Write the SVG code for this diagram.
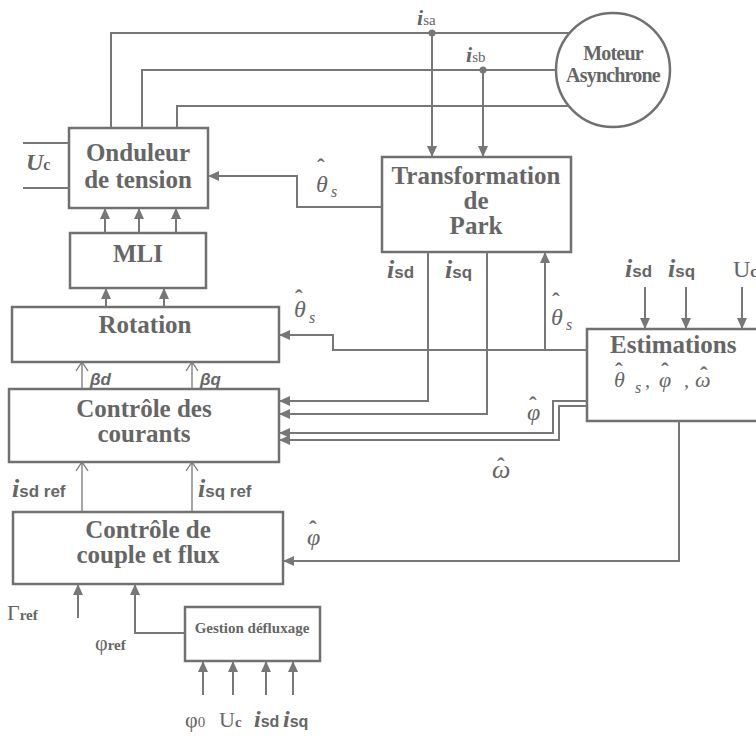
<svg xmlns="http://www.w3.org/2000/svg" width="756" height="740" viewBox="0 0 756 740">
<style>
.box{fill:#fff;stroke:#707070;stroke-width:2.5}
.ln{fill:none;stroke:#777;stroke-width:2}
.thin{fill:none;stroke:#777;stroke-width:1.3}
.t{font-family:"Liberation Serif",serif;font-weight:bold;fill:#666;text-anchor:middle}
.st{text-anchor:start}
.big{font-size:25px}
.it{font-family:"Liberation Serif",serif;font-style:italic;fill:#666}
.sans{font-family:"Liberation Sans",sans-serif;font-weight:bold;fill:#666}
.hat{font-family:"Liberation Serif",serif;font-weight:bold;fill:#666;font-size:23px}
</style>
<defs>
<marker id="a" markerUnits="userSpaceOnUse" markerWidth="12" markerHeight="10" refX="11" refY="5" orient="auto">
<path d="M0,0 L11,5 L0,10 z" fill="#777"/>
</marker>
<marker id="o" markerUnits="userSpaceOnUse" markerWidth="12" markerHeight="14" refX="10" refY="7" orient="auto">
<path d="M1,1 L10,7 L1,13" fill="none" stroke="#777" stroke-width="1.3"/>
</marker>
</defs>
<rect width="756" height="740" fill="#fff"/>

<g id="onduleur">
<rect class="box" x="69" y="128" width="139" height="80"/>
<text class="t big" x="138" y="161">Onduleur</text>
<text class="t big" x="138" y="188">de tension</text>
</g>
<g id="moteur">
<circle class="box" cx="613" cy="70" r="57"/>
<text class="t" font-size="20" x="613" y="60" letter-spacing="-0.8">Moteur</text>
<text class="t" font-size="20" x="613" y="82" letter-spacing="-0.8">Asynchrone</text>
</g>
<g id="park">
<rect class="box" x="382" y="157" width="189" height="95"/>
<text class="t big" x="476" y="184">Transformation</text>
<text class="t big" x="476" y="209">de</text>
<text class="t big" x="476" y="234">Park</text>
</g>
<g id="mli">
<rect class="box" x="70" y="233" width="136" height="55"/>
<text class="t big" x="138" y="262">MLI</text>
</g>
<g id="rotation">
<rect class="box" x="12" y="307" width="267" height="55"/>
<text class="t big" x="145" y="333">Rotation</text>
</g>
<g id="estimations">
<rect class="box" x="587" y="329" width="190" height="92"/>
<text class="t big st" x="610" y="353">Estimations</text>
<text class="it" font-size="22" x="614" y="387">θ</text>
<text class="it" font-size="16" x="635" y="393">s</text>
<text class="it" font-size="20" x="645" y="387">,</text>
<text class="it" font-size="22" x="659" y="387">φ</text>
<text class="it" font-size="20" x="684" y="387">,</text>
<text class="it" font-size="22" x="695" y="387">ω</text>
<text class="hat" x="615" y="379">ˆ</text>
<text class="hat" x="661" y="379">ˆ</text>
<text class="hat" x="700" y="383">ˆ</text>
</g>
<g id="courants">
<rect class="box" x="9" y="389" width="270" height="73"/>
<text class="t big" x="144" y="417">Contrôle des</text>
<text class="t big" x="144" y="442">courants</text>
</g>
<g id="couple">
<rect class="box" x="13" y="512" width="270" height="72"/>
<text class="t big" x="148" y="538">Contrôle de</text>
<text class="t big" x="148" y="563">couple et flux</text>
</g>
<g id="gestion">
<rect class="box" x="185" y="607" width="135" height="54"/>
<text class="t" font-size="15" x="252" y="633">Gestion défluxage</text>
</g>

<g id="connectors">
<path class="ln" d="M111,128 V33 H569"/>
<path class="ln" d="M142,128 V70 H556"/>
<path class="ln" d="M177,128 V106 H569"/>
<circle cx="432" cy="33" r="3.5" fill="#777"/>
<circle cx="483" cy="70" r="3.5" fill="#777"/>
<path class="ln" d="M432,33 V157" marker-end="url(#a)"/>
<path class="ln" d="M483,70 V157" marker-end="url(#a)"/>
<path class="ln" d="M23,143 H69 M23,188 H69"/>
<path class="ln" d="M382,207 H297 V176 H208" marker-end="url(#a)"/>
<path class="ln" d="M105,233 V208" marker-end="url(#a)"/>
<path class="ln" d="M139,233 V208" marker-end="url(#a)"/>
<path class="ln" d="M176,233 V208" marker-end="url(#a)"/>
<path class="ln" d="M106,307 V288" marker-end="url(#a)"/>
<path class="ln" d="M164,307 V288" marker-end="url(#a)"/>
<path class="ln" d="M587,350 H333 V335 H279" marker-end="url(#a)"/>
<path class="ln" d="M545,350 V252" marker-end="url(#a)"/>
<path class="ln" d="M428,252 V401 H279" marker-end="url(#a)"/>
<path class="ln" d="M487,252 V414 H279" marker-end="url(#a)"/>
<path class="ln" d="M587,401 H553 V433 H279" marker-end="url(#a)"/>
<path class="ln" d="M587,406 H559 V440 H279" marker-end="url(#a)"/>
<path class="ln" d="M645,287 V329" marker-end="url(#a)"/>
<path class="ln" d="M686,287 V329" marker-end="url(#a)"/>
<path class="ln" d="M742,287 V329" marker-end="url(#a)"/>
<path class="ln" d="M679,421 V561 H283" marker-end="url(#a)"/>
<path class="thin" d="M82,389 V362" marker-end="url(#o)"/>
<path class="thin" d="M192,389 V362" marker-end="url(#o)"/>
<path class="thin" d="M82,512 V462" marker-end="url(#o)"/>
<path class="thin" d="M192,512 V462" marker-end="url(#o)"/>
<path class="ln" d="M78,618 V584" marker-end="url(#a)"/>
<path class="ln" d="M185,633 H135 V584" marker-end="url(#a)"/>
<path class="ln" d="M203,695 V661" marker-end="url(#a)"/>
<path class="ln" d="M233,695 V661" marker-end="url(#a)"/>
<path class="ln" d="M266,695 V661" marker-end="url(#a)"/>
<path class="ln" d="M293,695 V661" marker-end="url(#a)"/>
</g>

<g id="labels">
<text x="417" y="25"><tspan class="it" font-weight="bold" font-size="22">i</tspan><tspan font-family="Liberation Serif,serif" fill="#666" font-size="15">sa</tspan></text>
<text x="466" y="62"><tspan class="it" font-weight="bold" font-size="22">i</tspan><tspan font-family="Liberation Serif,serif" fill="#666" font-size="15">sb</tspan></text>
<text x="26" y="170"><tspan class="it" font-weight="bold" font-size="24">U</tspan><tspan font-family="Liberation Serif,serif" font-weight="bold" fill="#666" font-size="16">c</tspan></text>

<text class="it" font-size="24" x="316" y="192">θ</text>
<text class="it" font-size="16" x="331" y="197">s</text>
<text class="hat" x="317" y="175">ˆ</text>

<text class="it" font-size="24" x="294" y="317">θ</text>
<text class="it" font-size="16" x="309" y="323">s</text>
<text class="hat" x="295" y="306">ˆ</text>

<text class="it" font-size="24" x="551" y="325">θ</text>
<text class="it" font-size="16" x="566" y="330">s</text>
<text class="hat" x="552" y="309">ˆ</text>

<text class="it" font-size="24" x="527" y="420">φ</text>
<text class="hat" x="529" y="413">ˆ</text>
<text class="it" font-size="26" x="492" y="478">ω</text>
<text class="hat" x="497" y="474">ˆ</text>
<text class="it" font-size="24" x="307" y="545">φ</text>
<text class="hat" x="309" y="537">ˆ</text>

<text x="387" y="278"><tspan class="it" font-weight="bold" font-size="26">i</tspan><tspan class="sans" font-size="17">sd</tspan></text>
<text x="445" y="278"><tspan class="it" font-weight="bold" font-size="26">i</tspan><tspan class="sans" font-size="17">sq</tspan></text>
<text x="625" y="277"><tspan class="it" font-weight="bold" font-size="26">i</tspan><tspan class="sans" font-size="17">sd</tspan></text>
<text x="668" y="277"><tspan class="it" font-weight="bold" font-size="26">i</tspan><tspan class="sans" font-size="17">sq</tspan></text>
<text x="733" y="277"><tspan font-family="Liberation Serif,serif" fill="#666" font-size="24">U</tspan><tspan font-family="Liberation Serif,serif" font-weight="bold" fill="#666" font-size="16">c</tspan></text>

<text class="sans" font-style="italic" font-weight="normal" font-size="17" x="90" y="385">βd</text>
<text class="sans" font-style="italic" font-weight="normal" font-size="17" x="200" y="385">βq</text>

<text x="12" y="497"><tspan class="it" font-weight="bold" font-size="26">i</tspan><tspan class="sans" font-size="17">sd ref</tspan></text>
<text x="198" y="497"><tspan class="it" font-weight="bold" font-size="26">i</tspan><tspan class="sans" font-size="17">sq ref</tspan></text>

<text x="7" y="620"><tspan font-family="Liberation Serif,serif" fill="#666" font-size="22">Γ</tspan><tspan font-family="Liberation Serif,serif" font-weight="bold" fill="#666" font-size="15">ref</tspan></text>
<text x="95" y="650"><tspan font-family="Liberation Serif,serif" fill="#666" font-size="22">φ</tspan><tspan font-family="Liberation Serif,serif" font-weight="bold" fill="#666" font-size="15">ref</tspan></text>

<text x="185" y="727"><tspan font-family="Liberation Serif,serif" fill="#666" font-size="22">φ</tspan><tspan font-family="Liberation Serif,serif" fill="#666" font-size="15">0</tspan></text>
<text x="219" y="727"><tspan font-family="Liberation Serif,serif" fill="#666" font-size="22">U</tspan><tspan font-family="Liberation Serif,serif" font-weight="bold" fill="#666" font-size="15">c</tspan></text>
<text x="254" y="727"><tspan class="it" font-weight="bold" font-size="24">i</tspan><tspan class="sans" font-size="16">sd</tspan></text>
<text x="283" y="727"><tspan class="it" font-weight="bold" font-size="24">i</tspan><tspan class="sans" font-size="16">sq</tspan></text>
</g>
</svg>
